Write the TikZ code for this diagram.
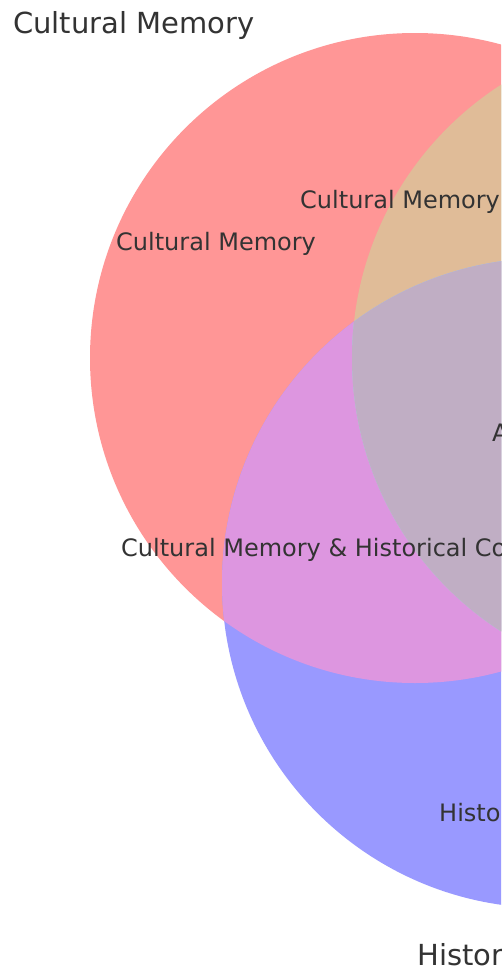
\documentclass[tikz,border=0pt]{standalone}
\usepackage{fontspec}
\setmainfont{DejaVu Sans}
\definecolor{redonly}{RGB}{255,150,150}
\definecolor{blueonly}{RGB}{153,153,255}
\definecolor{greenonly}{RGB}{153,255,153}
\definecolor{redblue}{RGB}{221,150,224}
\definecolor{redgreen}{RGB}{224,188,152}
\definecolor{bluegreen}{RGB}{153,204,255}
\definecolor{allthree}{RGB}{192,174,196}
\definecolor{textcol}{RGB}{51,51,51}
\tikzset{
  lbl/.style={anchor=base west, inner sep=0pt, text=textcol, font=\fontsize{24}{28}\selectfont},
  ttl/.style={anchor=base west, inner sep=0pt, text=textcol, font=\fontsize{29}{34}\selectfont}
}
\begin{document}
\begin{tikzpicture}[x=1pt,y=-1pt]
\useasboundingbox (0,0) rectangle (501,969);
\clip (0,0) rectangle (501,969);
\def\R{325}
% base circles
\fill[greenonly] (677,358) circle (\R);
\fill[redonly] (415,358) circle (\R);
\fill[blueonly] (547,583) circle (\R);
% red & blue
\begin{scope}
  \clip (415,358) circle (\R);
  \fill[redblue] (547,583) circle (\R);
  \fill[redgreen] (677,358) circle (\R);
\end{scope}
% blue & green
\begin{scope}
  \clip (547,583) circle (\R);
  \fill[bluegreen] (677,358) circle (\R);
  \clip (415,358) circle (\R);
  \fill[allthree] (677,358) circle (\R);
\end{scope}
% labels
\node[ttl] (t1) at (13,33) {Cultural Memory};
\node[ttl] (t2) at (417,965) {Histor};
\node[lbl] (l1) at (116,250) {Cultural Memory};
\node[lbl] (l2) at (300,208) {Cultural Memory};
\node[lbl] (l3) at (492,441) {A};
\node[lbl] (l4) at (121,556) {Cultural Memory \& Historical Co};
\node[lbl] (l5) at (439,821) {Histo};
\end{tikzpicture}
\end{document}
